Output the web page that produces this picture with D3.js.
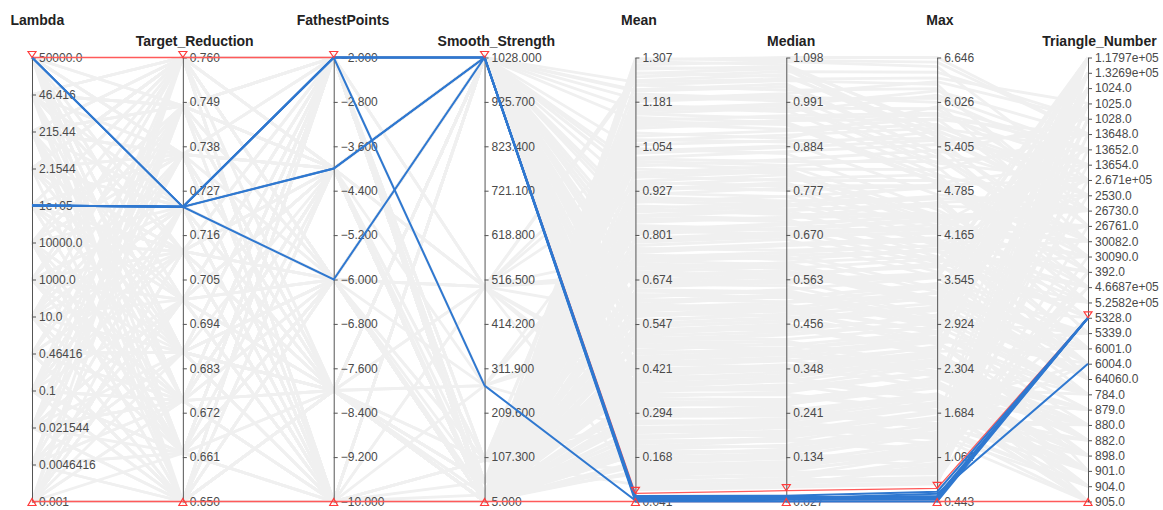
<!DOCTYPE html>
<html>
<head>
<meta charset="utf-8">
<script src="https://cdn.jsdelivr.net/npm/d3@7"></script>
<style>
  html, body { margin: 0; padding: 0; background: #ffffff; }
  svg { display: block; font-family: "Liberation Sans", Arial, sans-serif; }
</style>
</head>
<body>
<svg id="chart" width="1163" height="510"></svg>
<script>
// ---- Axes ----
const dimensions = ["Lambda", "Target_Reduction", "FathestPoints", "Smooth_Strength",
                    "Mean", "Median", "Max", "Triangle_Number"];

// Categorical axes (top to bottom)
const lambdaCategories = ["50000.0", "46.416", "215.44", "2.1544", "1e+05", "10000.0", "1000.0",
                          "10.0", "0.46416", "0.1", "0.021544", "0.0046416", "0.001"];
const triangleCategories = ["1.1797e+05", "1.3269e+05", "1024.0", "1025.0", "1028.0", "13648.0",
                            "13652.0", "13654.0", "2.671e+05", "2530.0", "26730.0", "26761.0",
                            "30082.0", "30090.0", "392.0", "4.6687e+05", "5.2582e+05", "5328.0",
                            "5339.0", "6001.0", "6004.0", "64060.0", "784.0", "879.0", "880.0",
                            "882.0", "898.0", "901.0", "904.0", "905.0"];

// Numeric axis ticks (bottom to top)
const targetReductionTicks = [0.650, 0.661, 0.672, 0.683, 0.694, 0.705, 0.716, 0.727, 0.738, 0.749, 0.760];
const fathestPointsTicks = [-10, -9.2, -8.4, -7.6, -6.8, -6, -5.2, -4.4, -3.6, -2.8, -2];
const smoothStrengthTicks = [5, 107.3, 209.6, 311.9, 414.2, 516.5, 618.8, 721.1, 823.4, 925.7, 1028];
const meanTicks = [0.041, 0.168, 0.294, 0.421, 0.547, 0.674, 0.801, 0.927, 1.054, 1.181, 1.307];
const medianTicks = [0.027, 0.134, 0.241, 0.348, 0.456, 0.563, 0.670, 0.777, 0.884, 0.991, 1.098];
const maxTicks = [0.443, 1.064, 1.684, 2.304, 2.924, 3.545, 4.165, 4.785, 5.405, 6.026, 6.646];

// Active filter range on every axis (lower bound, upper bound)
const brushLow = ["0.001", 0.650, -10, 5, 0.041, 0.027, 0.443, "905.0"];
const brushHigh = ["50000.0", 0.760, -2, 1028, 0.064, 0.053, 0.625, "5328.0"];

// ---- Runs (one entry per run, same order in every column) ----
const lambdaCol = [
  "2.1544","0.0046416","10.0","50000.0","10000.0","0.1","215.44","0.001","1000.0","1e+05",
  "0.46416","46.416","0.021544","10000.0","2.1544","0.001","10.0","50000.0","0.1","215.44",
  "1000.0","0.0046416","1e+05","0.46416","46.416","0.021544","2.1544","10000.0","0.001","10.0",
  "50000.0","0.1","215.44","1000.0","0.0046416","1e+05","0.46416","46.416","0.021544","2.1544",
  "10000.0","0.001","10.0","50000.0","0.1","215.44","1000.0","0.0046416","1e+05","0.46416",
  "46.416","0.021544","2.1544","10000.0","0.001","10.0","50000.0","0.1","215.44","1000.0",
  "0.0046416","1e+05","0.46416","46.416","0.021544","2.1544","10000.0","0.001","10.0","50000.0",
  "0.1","215.44","1000.0","0.0046416","1e+05","0.46416","46.416","0.021544","2.1544","10000.0",
  "0.001","10.0","50000.0","0.1","215.44","1000.0","0.0046416","1e+05","0.46416","46.416",
  "0.021544","2.1544","10000.0","0.001","10.0","50000.0","0.1","215.44","1000.0","0.0046416",
  "1e+05","0.46416","46.416","0.021544","2.1544","10000.0","0.001","10.0","50000.0","0.1",
  "215.44","1000.0","0.0046416","1e+05","0.46416","46.416","0.021544","2.1544","10000.0","0.001",
  "10.0","50000.0","0.1","215.44","1000.0","0.0046416","1e+05","0.46416","46.416","0.021544",
  "2.1544","10000.0","0.001","10.0","50000.0","0.1","215.44","1000.0","0.0046416","1e+05",
  "0.46416","46.416","0.021544","2.1544","10000.0","0.001","10.0","50000.0","0.1","215.44",
  "1000.0","215.44","0.021544","50000.0","0.46416","1e+05","0.001","46.416","0.1","10000.0",
  "0.0046416","2.1544","10.0","0.1","50000.0","1000.0","215.44","0.021544","1e+05","0.001",
  "46.416","0.46416","10000.0","0.0046416","2.1544","10.0","50000.0","0.1","1000.0","215.44",
  "0.021544","1e+05","0.001","46.416","0.46416","10000.0","0.0046416","2.1544","10.0","50000.0",
  "0.1","1000.0","215.44","0.021544","1e+05","0.001","46.416","0.46416","10000.0","0.0046416",
  "2.1544","10.0","50000.0","0.1","1000.0","215.44","0.021544","1e+05","0.001","46.416",
  "0.46416","10000.0","0.0046416","2.1544","10.0","50000.0","0.1","1000.0","215.44","0.021544",
  "1e+05","0.001","46.416","0.46416","10000.0","0.0046416","2.1544","10.0","50000.0","0.1",
  "1000.0","215.44","0.021544","1e+05","0.001","46.416","0.46416","10000.0","0.0046416","2.1544",
  "10.0","50000.0","0.1","1000.0","215.44","0.021544","1e+05","0.001","46.416","0.46416",
  "50000.0","1e+05","1e+05","1e+05","50000.0","1e+05","1e+05"
];
const targetReduction = [
  0.760,0.687,0.650,0.736,0.712,0.662,0.748,0.700,0.675,0.723,
  0.650,0.748,0.700,0.662,0.760,0.712,0.687,0.675,0.736,0.760,
  0.712,0.675,0.723,0.650,0.687,0.736,0.760,0.662,0.700,0.748,
  0.687,0.723,0.662,0.760,0.650,0.700,0.675,0.736,0.748,0.712,
  0.736,0.650,0.760,0.700,0.723,0.687,0.662,0.748,0.712,0.675,
  0.662,0.700,0.736,0.675,0.748,0.650,0.712,0.760,0.687,0.723,
  0.748,0.712,0.687,0.723,0.675,0.760,0.650,0.700,0.736,0.662,
  0.700,0.760,0.675,0.687,0.662,0.748,0.736,0.650,0.723,0.712,
  0.675,0.662,0.712,0.748,0.736,0.723,0.700,0.687,0.650,0.760,
  0.723,0.736,0.650,0.712,0.700,0.675,0.748,0.760,0.662,0.687,
  0.760,0.687,0.748,0.650,0.712,0.662,0.723,0.675,0.700,0.736,
  0.650,0.700,0.662,0.736,0.687,0.760,0.675,0.723,0.748,0.712,
  0.736,0.748,0.723,0.662,0.760,0.700,0.687,0.650,0.712,0.675,
  0.687,0.650,0.712,0.760,0.675,0.736,0.662,0.748,0.723,0.700,
  0.712,0.723,0.760,0.700,0.748,0.687,0.736,0.662,0.650,0.675,
  0.700,0.736,0.662,0.748,0.687,0.760,0.650,0.712,0.675,0.723,
  0.662,0.760,0.712,0.650,0.736,0.687,0.723,0.748,0.700,0.675,
  0.748,0.650,0.687,0.700,0.760,0.723,0.736,0.662,0.712,0.675,
  0.687,0.712,0.748,0.675,0.650,0.736,0.760,0.700,0.662,0.700,
  0.736,0.675,0.700,0.760,0.712,0.662,0.748,0.650,0.687,0.723,
  0.650,0.723,0.687,0.712,0.662,0.748,0.700,0.736,0.760,0.675,
  0.712,0.662,0.760,0.687,0.723,0.650,0.675,0.748,0.736,0.700,
  0.760,0.700,0.650,0.736,0.748,0.675,0.712,0.687,0.675,0.662,
  0.675,0.748,0.736,0.662,0.700,0.712,0.687,0.760,0.650,0.723,
  0.723,0.687,0.675,0.748,0.650,0.700,0.662,0.712,0.760,0.736,
  0.723,0.723,0.723,0.723,0.723,0.723,0.723
];
const fathestPoints = [
  -6,-2,-10,-4,-8,-2,-6,-10,-4,-8,
  -4,-8,-2,-6,-10,-4,-8,-2,-6,-10,
  -10,-4,-8,-2,-6,-10,-2,-6,-4,-8,
  -2,-6,-10,-4,-8,-2,-6,-10,-4,-8,
  -8,-2,-4,-10,-6,-8,-2,-4,-10,-6,
  -6,-10,-2,-8,-4,-6,-10,-2,-8,-4,
  -2,-8,-6,-10,-4,-2,-8,-6,-10,-4,
  -10,-6,-4,-2,-8,-10,-6,-4,-2,-8,
  -4,-2,-10,-6,-8,-4,-2,-10,-6,-8,
  -8,-4,-6,-2,-10,-8,-4,-6,-2,-10,
  -6,-10,-8,-4,-2,-6,-10,-8,-4,-2,
  -2,-4,-8,-10,-6,-2,-4,-8,-10,-6,
  -10,-8,-2,-6,-4,-10,-8,-2,-6,-4,
  -4,-6,-10,-8,-2,-4,-6,-10,-8,-2,
  -8,-10,-6,-2,-4,-8,-10,-6,-2,-4,
  -8,-4,-10,-2,-6,-10,-4,-8,-2,-6,
  -2,-10,-6,-8,-4,-2,-10,-6,-8,-4,
  -6,-8,-2,-4,-10,-6,-8,-2,-4,-10,
  -10,-6,-4,-2,-8,-10,-6,-4,-2,-8,
  -4,-2,-8,-6,-10,-4,-2,-8,-6,-10,
  -8,-6,-10,-4,-2,-8,-6,-10,-4,-2,
  -2,-10,-4,-8,-6,-2,-10,-4,-8,-6,
  -6,-4,-8,-10,-2,-6,-4,-8,-10,-2,
  -10,-8,-2,-6,-4,-10,-8,-2,-6,-4,
  -4,-6,-10,-2,-8,-4,-6,-10,-2,-8,
  -2,-2,-4,-6,-2,-4,-2
];
const smoothStrength = [
  5,1028,5,100,5,1028,500,5,1028,50,
  1028,5,1028,5,500,1028,5,20,5,100,
  5,1028,100,5,5,1028,50,5,500,1028,
  5,20,5,1028,272,1028,5,5,500,1028,
  50,5,1028,5,100,5,1028,5,20,5,
  1028,5,5,1028,50,500,5,272,5,1028,
  5,1028,5,100,5,20,1028,5,5,1028,
  5,500,1028,5,5,50,1028,1028,5,100,
  1028,5,5,272,1028,5,500,5,1028,50,
  5,100,5,1028,5,20,1028,5,1028,5,
  1028,5,500,5,100,5,1028,50,5,1028,
  5,1028,5,500,1028,5,20,1028,5,5,
  5,1028,100,5,1028,5,272,5,50,5,
  1028,5,5,1028,500,5,1028,100,5,1028,
  5,1028,20,1028,5,50,5,5,1028,500,
  1028,1028,5,5,1028,5,500,5,100,1028,
  5,1028,1028,5,5,50,1028,5,1028,5,
  5,500,5,1028,5,1028,20,5,1028,5,
  5,1028,5,100,1028,5,1028,272,5,1028,
  1028,5,5,1028,1028,5,50,5,1028,5,
  5,1028,5,5,500,1028,5,100,5,1028,
  1028,5,5,1028,5,20,1028,5,1028,5,
  5,1028,1028,5,50,5,1028,5,5,1028,
  1028,5,1028,500,5,5,1028,5,100,5,
  5,1028,272,5,1028,5,5,1028,5,50,
  1028,272,1028,1028,1028,1028,1028
];
const meanVals = [
  0.842,1.215,0.317,0.603,1.092,0.158,0.745,1.286,0.472,0.931,
  0.214,1.154,0.688,0.389,1.021,0.096,0.556,1.263,0.812,0.271,
  0.979,0.433,1.188,0.127,0.664,1.047,0.352,0.897,1.241,0.518,
  0.183,0.771,1.118,0.405,0.954,0.082,0.631,1.301,0.289,0.868,
  1.172,0.496,0.237,1.069,0.719,0.141,0.583,1.228,0.916,0.334,
  0.803,1.136,0.452,0.112,0.997,0.677,1.274,0.248,0.539,0.884,
  1.203,0.366,0.759,1.011,0.198,0.611,1.159,0.419,0.943,0.075,
  0.702,1.252,0.301,0.828,1.105,0.167,0.568,0.989,0.383,1.181,
  0.645,0.226,1.034,0.857,0.461,1.295,0.104,0.736,1.127,0.346,
  0.921,0.528,1.196,0.262,0.791,1.058,0.139,0.617,1.237,0.444,
  0.965,0.312,0.693,1.146,0.089,0.854,0.507,1.279,0.376,0.728,
  1.083,0.206,0.592,0.939,1.211,0.428,0.119,0.781,1.167,0.281,
  0.658,1.003,0.359,1.262,0.548,0.174,0.873,1.124,0.486,0.813,
  1.189,0.241,0.627,0.968,0.398,1.304,0.152,0.706,1.041,0.327,
  0.876,0.469,1.229,0.093,0.574,0.909,1.147,0.293,0.751,1.073,
  0.312,0.087,0.524,0.743,0.198,0.631,0.415,0.866,0.133,0.558,
  0.271,0.694,0.105,0.482,0.815,0.357,0.602,0.229,0.928,0.446,
  0.153,0.579,0.788,0.304,0.671,0.092,0.512,0.397,0.849,0.246,
  0.623,0.181,0.437,0.905,0.338,0.716,0.118,0.547,0.264,0.781,
  0.401,0.857,0.214,0.596,0.079,0.462,0.738,0.325,0.652,0.189,
  0.533,0.296,0.821,0.147,0.684,0.421,0.972,0.253,0.569,0.109,
  0.758,0.373,0.641,0.221,0.894,0.489,0.166,0.707,0.348,1.018,
  0.284,0.612,0.098,0.453,0.763,0.207,0.539,0.871,0.386,0.667,
  0.124,0.498,0.729,0.319,0.587,0.951,0.239,0.412,0.806,0.173,
  0.661,0.282,0.503,0.837,0.141,0.724,0.366,0.593,1.112,0.431,
  0.046,0.044,0.050,0.048,0.053,0.041,0.057
];
const medianVals = [
  0.712,1.034,0.259,0.521,0.903,0.141,0.611,1.088,0.408,0.796,
  0.172,0.982,0.566,0.338,0.871,0.078,0.479,1.052,0.694,0.219,
  0.836,0.351,1.011,0.114,0.571,0.866,0.305,0.741,1.057,0.447,
  0.149,0.659,0.925,0.352,0.815,0.066,0.518,1.098,0.251,0.742,
  0.971,0.429,0.205,0.911,0.592,0.124,0.501,1.019,0.783,0.273,
  0.686,0.941,0.391,0.101,0.852,0.557,1.076,0.214,0.462,0.731,
  0.998,0.318,0.649,0.838,0.159,0.526,0.987,0.343,0.806,0.061,
  0.603,1.064,0.246,0.684,0.942,0.136,0.488,0.819,0.331,1.004,
  0.533,0.197,0.881,0.708,0.396,1.081,0.092,0.627,0.958,0.284,
  0.762,0.455,0.993,0.227,0.676,0.897,0.111,0.509,1.046,0.381,
  0.823,0.268,0.574,0.951,0.072,0.728,0.418,1.069,0.324,0.598,
  0.921,0.181,0.486,0.777,1.027,0.366,0.097,0.668,0.967,0.243,
  0.562,0.829,0.296,1.071,0.471,0.153,0.719,0.936,0.414,0.672,
  1.008,0.208,0.538,0.801,0.327,1.091,0.131,0.581,0.885,0.262,
  0.747,0.386,1.042,0.083,0.493,0.752,0.976,0.238,0.644,0.894,
  0.271,0.069,0.452,0.611,0.174,0.519,0.357,0.739,0.106,0.478,
  0.221,0.595,0.091,0.396,0.698,0.309,0.494,0.186,0.791,0.383,
  0.135,0.474,0.671,0.247,0.577,0.081,0.437,0.326,0.702,0.213,
  0.536,0.147,0.374,0.748,0.291,0.589,0.104,0.468,0.216,0.665,
  0.344,0.731,0.176,0.489,0.064,0.397,0.628,0.266,0.556,0.163,
  0.441,0.256,0.681,0.119,0.584,0.347,0.829,0.209,0.486,0.088,
  0.645,0.318,0.529,0.191,0.763,0.404,0.143,0.603,0.286,0.847,
  0.233,0.522,0.079,0.388,0.633,0.178,0.461,0.724,0.331,0.553,
  0.109,0.412,0.621,0.274,0.501,0.788,0.196,0.352,0.686,0.151,
  0.547,0.242,0.431,0.712,0.113,0.617,0.301,0.507,0.946,0.369,
  0.033,0.031,0.036,0.034,0.039,0.027,0.041
];
const maxVals = [
  4.62,5.31,2.18,2.87,5.96,1.02,3.95,6.52,2.31,4.19,
  1.61,6.18,3.02,2.47,5.43,0.78,3.36,5.58,4.44,1.39,
  5.27,2.04,6.31,1.23,3.77,4.52,2.35,4.71,5.46,2.49,
  1.46,3.58,5.79,2.61,4.27,0.71,3.49,6.646,1.53,4.88,
  5.02,2.93,1.32,5.66,3.19,1.27,2.78,6.21,4.06,2.12,
  4.39,4.91,2.21,1.14,5.35,3.62,5.68,1.79,3.11,3.86,
  6.08,1.87,4.13,4.44,1.48,2.95,5.12,2.51,5.01,0.69,
  3.27,6.44,1.95,4.36,4.97,0.94,3.29,4.42,2.38,6.02,
  2.96,1.71,5.49,3.81,2.74,5.63,0.83,4.02,5.87,1.68,
  4.83,2.54,5.17,1.88,3.65,5.52,1.16,3.43,6.36,2.19,
  4.35,2.07,3.76,5.84,0.75,4.61,2.88,5.47,1.91,3.24,
  5.71,1.59,2.66,4.86,5.31,2.59,0.89,4.19,6.12,1.47,
  3.63,4.28,2.24,5.54,3.13,1.41,4.47,4.89,2.33,4.25,
  5.25,1.36,3.57,4.93,1.89,6.58,1.05,3.18,5.61,2.03,
  4.02,2.71,6.27,0.98,2.82,4.68,5.93,1.91,4.11,4.73,
  2.14,0.92,2.51,3.97,1.12,3.46,2.03,4.67,1.24,3.21,
  1.83,3.21,0.86,2.79,4.42,1.78,3.36,1.62,4.18,2.68,
  1.38,2.64,4.31,1.49,3.72,0.74,3.05,2.41,3.78,1.81,
  2.97,1.46,2.67,4.05,2.24,3.83,1.09,3.16,1.34,4.21,
  2.52,4.57,1.17,3.28,0.96,2.26,3.42,2.08,3.59,1.53,
  3.03,1.52,4.26,1.29,3.19,2.49,5.08,1.77,2.71,1.12,
  4.08,2.37,2.92,1.68,4.02,2.81,1.41,3.87,1.71,5.19,
  1.92,2.89,1.03,2.22,4.01,1.14,3.12,3.94,2.43,3.58,
  1.19,2.33,3.94,2.11,2.81,4.86,1.25,2.54,3.73,1.47,
  3.01,1.94,2.95,4.44,1.21,3.37,2.26,3.35,5.78,2.09,
  0.50,0.47,0.52,0.55,0.49,0.443,0.58
];
const triangleCol = [
  "2530.0","30090.0","882.0","1.3269e+05","13652.0","1025.0","6001.0","2.671e+05","901.0","26761.0",
  "880.0","13648.0","1024.0","905.0","392.0","1.1797e+05","64060.0","26730.0","5.2582e+05","4.6687e+05",
  "30082.0","898.0","1028.0","13654.0","6004.0","4.6687e+05","879.0","5339.0","13654.0","1.1797e+05",
  "904.0","784.0","26761.0","1024.0","2.671e+05","1.3269e+05","5339.0","13648.0","882.0","30090.0",
  "5.2582e+05","1025.0","2530.0","13652.0","64060.0","5328.0","1.3269e+05","26730.0","392.0","898.0",
  "6001.0","30082.0","880.0","1028.0","2530.0","1.1797e+05","2.671e+05","901.0","784.0","5328.0",
  "13654.0","879.0","6004.0","26761.0","905.0","1024.0","4.6687e+05","1.3269e+05","26730.0","13652.0",
  "5339.0","1028.0","904.0","30090.0","5.2582e+05","1024.0","1.1797e+05","64060.0","880.0","30082.0",
  "6001.0","882.0","13648.0","1025.0","784.0","2530.0","26761.0","4.6687e+05","13652.0","898.0",
  "392.0","1.3269e+05","2.671e+05","901.0","6004.0","30090.0","13648.0","5.2582e+05","1025.0","879.0",
  "26730.0","904.0","1.1797e+05","13654.0","392.0","5328.0","784.0","30082.0","905.0","1024.0",
  "2530.0","880.0","5339.0","4.6687e+05","1028.0","1.3269e+05","2.671e+05","26761.0","13652.0","898.0",
  "64060.0","30082.0","901.0","26730.0","1025.0","6004.0","5.2582e+05","13654.0","882.0","6001.0",
  "30090.0","904.0","1024.0","392.0","879.0","13648.0","1025.0","1.1797e+05","2.671e+05","784.0",
  "5328.0","6004.0","26761.0","1028.0","1.3269e+05","5339.0","2530.0","880.0","64060.0","26730.0",
  "1.1797e+05","392.0","898.0","30082.0","1024.0","64060.0","880.0","2530.0","1.3269e+05","5328.0",
  "901.0","1025.0","13648.0","879.0","26730.0","905.0","6001.0","1.1797e+05","30090.0","882.0",
  "1024.0","784.0","13652.0","904.0","5.2582e+05","1028.0","1.3269e+05","880.0","26761.0","6004.0",
  "5339.0","1.1797e+05","898.0","2.671e+05","879.0","4.6687e+05","1025.0","901.0","905.0","13654.0",
  "882.0","26730.0","1.3269e+05","64060.0","30090.0","904.0","6001.0","1024.0","1.1797e+05","880.0",
  "784.0","901.0","30082.0","1025.0","5339.0","898.0","13648.0","905.0","1.3269e+05","392.0",
  "5.2582e+05","880.0","1.1797e+05","904.0","2530.0","879.0","1028.0","6004.0","901.0","13652.0",
  "898.0","1.3269e+05","4.6687e+05","882.0","26761.0","1024.0","64060.0","392.0","784.0","1.1797e+05",
  "1025.0","879.0","5328.0","905.0","880.0","2.671e+05","1.1797e+05","6001.0","30090.0","904.0",
  "1.3269e+05","898.0","784.0","26730.0","1028.0","6004.0","882.0","1024.0","13648.0","901.0",
  "5328.0","5328.0","5328.0","6004.0","5328.0","5328.0","5328.0"
];

// ---- Layout ----
const svg = d3.select("#chart");
const yTop = 57.5, yBottom = 501.5;
const columns = [lambdaCol, targetReduction, fathestPoints, smoothStrength,
                 meanVals, medianVals, maxVals, triangleCol];
const axisTicks = [lambdaCategories, targetReductionTicks, fathestPointsTicks, smoothStrengthTicks,
                   meanTicks, medianTicks, maxTicks, triangleCategories];
const isCategorical = [true, false, false, false, false, false, false, true];

const x = d3.scalePoint().domain(dimensions).range([32, 1088]);
const y = dimensions.map((d, i) => isCategorical[i]
  ? d3.scalePoint().domain(axisTicks[i]).range([yTop, yBottom])
  : d3.scaleLinear().domain([axisTicks[i][0], axisTicks[i][axisTicks[i].length - 1]]).range([yBottom, yTop]));

const rows = d3.range(lambdaCol.length).map(r => columns.map(c => c[r]));
const points = row => row.map((v, i) => [x(dimensions[i]), y[i](v)]);
const inBrush = row => row.every((v, i) => {
  const p = y[i](v), a = y[i](brushLow[i]), b = y[i](brushHigh[i]);
  return p >= Math.min(a, b) - 0.01 && p <= Math.max(a, b) + 0.01;
});
const line = d3.line();

const selected = rows.filter(inBrush);
const others = rows.filter(r => !inBrush(r));

// Background runs
svg.append("g")
  .selectAll("path").data(others).join("path")
  .attr("d", r => line(points(r)))
  .attr("fill", "none")
  .attr("stroke", "#f0f0f0")
  .attr("stroke-width", 2.8);

// Axes
dimensions.forEach((dim, i) => {
  const axis = d3.axisRight(y[i]).tickSize(4).tickSizeOuter(0).tickPadding(3);
  if (!isCategorical[i]) axis.tickValues(axisTicks[i]).tickFormat(d3.format(".3f"));
  const g = svg.append("g")
    .attr("transform", `translate(${x(dim)},0)`)
    .call(axis);
  g.select(".domain").attr("stroke", "#555");
  g.selectAll(".tick line").attr("stroke", "#555");
  g.selectAll(".tick text")
    .attr("fill", "#4a4a4a")
    .style("font-size", "12px")
    .style("font-family", "'Liberation Sans', Arial, sans-serif");

  const title = svg.append("text")
    .attr("y", i % 2 === 0 ? 25 : 46)
    .attr("fill", "#222")
    .style("font-size", "14px")
    .style("font-weight", "bold")
    .text(dim);
  const w = title.node().getComputedTextLength();
  title.attr("x", x(dim) - 0.4 * w);
});

// Filter envelope
const upper = brushHigh.map((v, i) => [x(dimensions[i]), y[i](v)]);
const lower = brushLow.map((v, i) => [x(dimensions[i]), y[i](v)]);
[upper, lower].forEach(pts => {
  svg.append("path")
    .attr("d", line(pts))
    .attr("fill", "none")
    .attr("stroke", "#ff5a5a")
    .attr("stroke-width", 1.3);
});

// Selected runs
svg.append("g")
  .selectAll("path").data(selected).join("path")
  .attr("d", r => line(points(r)))
  .attr("fill", "none")
  .attr("stroke", "#2f78d0")
  .attr("stroke-width", 2);

// Filter handles
const handles = svg.append("g").attr("fill", "none").attr("stroke", "#ff3b3b").attr("stroke-width", 1.2);
upper.forEach(([px, py]) => {
  handles.append("path").attr("d", `M${px - 4},${py - 6}L${px + 4},${py - 6}L${px},${py}Z`);
});
lower.forEach(([px, py]) => {
  handles.append("path").attr("d", `M${px - 4},${py + 4}L${px + 4},${py + 4}L${px},${py - 3}Z`);
});
</script>
</body>
</html>
